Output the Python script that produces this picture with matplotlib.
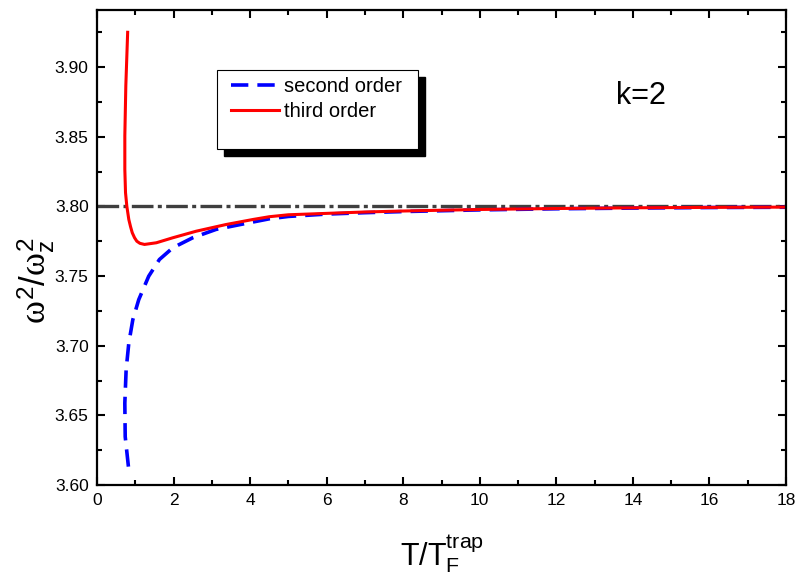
import matplotlib
matplotlib.use('Agg')
import matplotlib.pyplot as plt
from matplotlib.patches import Rectangle
from matplotlib.ticker import MultipleLocator, FormatStrFormatter

plt.rcParams['font.family'] = ['Liberation Sans', 'DejaVu Sans']
plt.rcParams['mathtext.fontset'] = 'custom'
plt.rcParams['mathtext.rm'] = 'Liberation Sans'
plt.rcParams['mathtext.it'] = 'Liberation Serif'
plt.rcParams['mathtext.default'] = 'it'

# curves (T/T_F^trap, omega^2/omega_z^2)
second_x = [0.82, 0.736, 0.726, 0.76, 0.83, 0.935, 1.09, 1.35, 1.63, 1.98,
            2.5, 3.11, 3.98, 4.5, 5.0, 6.0, 7.0, 8.0, 10.0, 12.0, 14.0, 16.0, 18.0]
second_y = [3.6132, 3.6347, 3.6588, 3.6827, 3.7019, 3.7187, 3.7331, 3.7499, 3.7619, 3.7703,
            3.7775, 3.7835, 3.7883, 3.7911, 3.7928, 3.7945, 3.7955, 3.7963, 3.7975, 3.7983,
            3.7988, 3.7992, 3.7994]

third_x = [0.80, 0.752, 0.726, 0.726, 0.744, 0.778, 0.83, 0.875, 0.92, 0.98, 1.04, 1.12,
           1.24, 1.55, 1.98, 2.59, 3.37, 4.07, 4.5, 5.0, 6.0, 7.0, 8.0, 10.0, 12.0, 14.0,
           16.0, 18.0]
third_y = [3.925, 3.8866, 3.8506, 3.8266, 3.8099, 3.8002, 3.7906, 3.7855, 3.7811, 3.7775,
           3.775, 3.7735, 3.7727, 3.7739, 3.7775, 3.7822, 3.787, 3.7906, 3.7926, 3.794,
           3.795, 3.796, 3.7967, 3.7978, 3.7985, 3.799, 3.7993, 3.7995]

limit_x = [0, 18]
limit_y = [3.80, 3.80]

fig = plt.figure(figsize=(7.98, 5.81), dpi=100)
ax = fig.add_axes([0.1216, 0.1652, 0.8634, 0.8176])

ax.plot(limit_x, limit_y, color='#3f3f3f', lw=2.4, dashes=(6.5, 1.3, 1.2, 1.3))
ax.plot(second_x, second_y, color='#0000ff', lw=2.6, dashes=(4.8, 2.5), label='second order')
ax.plot(third_x, third_y, color='#ff0000', lw=2.2, label='third order')

ax.set_xlim(0, 18)
ax.set_ylim(3.60, 3.941)
ax.xaxis.set_major_locator(MultipleLocator(2))
ax.xaxis.set_minor_locator(MultipleLocator(1))
ax.yaxis.set_major_locator(MultipleLocator(0.05))
ax.yaxis.set_minor_locator(MultipleLocator(0.025))
ax.yaxis.set_major_formatter(FormatStrFormatter('%.2f'))
ax.tick_params(which='both', direction='in', top=True, right=True, width=1.5, labelsize=12.5, pad=6)
ax.tick_params(which='major', length=5.8)
ax.tick_params(which='minor', length=3.6)
for sp in ax.spines.values():
    sp.set_linewidth(1.6)

# legend box with drop shadow
ax.add_patch(Rectangle((0.1746 + 0.0102, 0.7067 - 0.0147), 0.2917, 0.167,
                       transform=ax.transAxes, facecolor='black', edgecolor='black', zorder=4))
ax.add_patch(Rectangle((0.1746, 0.7067), 0.2917, 0.167, transform=ax.transAxes,
                       facecolor='white', edgecolor='black', lw=0.8, zorder=5))
leg = ax.legend(loc='upper left', bbox_to_anchor=(0.188, 0.868), frameon=False,
                fontsize=14.5, handlelength=2.4, handletextpad=0.25, labelspacing=0.3,
                borderaxespad=0, borderpad=0.2)
leg.set_zorder(6)

ax.text(0.7896, 0.819, 'k=2', transform=ax.transAxes, fontsize=22, ha='center', va='center')

ax.set_xlabel(r'T/T$_{\mathrm{F}}^{\mathrm{trap}}$', fontsize=22, labelpad=17)
fig.text(36 / 798, 1 - 280 / 581, r'$\omega^{\mathrm{2}}/\omega^{\mathrm{2}}_{\mathrm{z}}$',
         rotation=90, fontsize=25, ha='center', va='center')

fig.savefig('out.png', dpi=100)
